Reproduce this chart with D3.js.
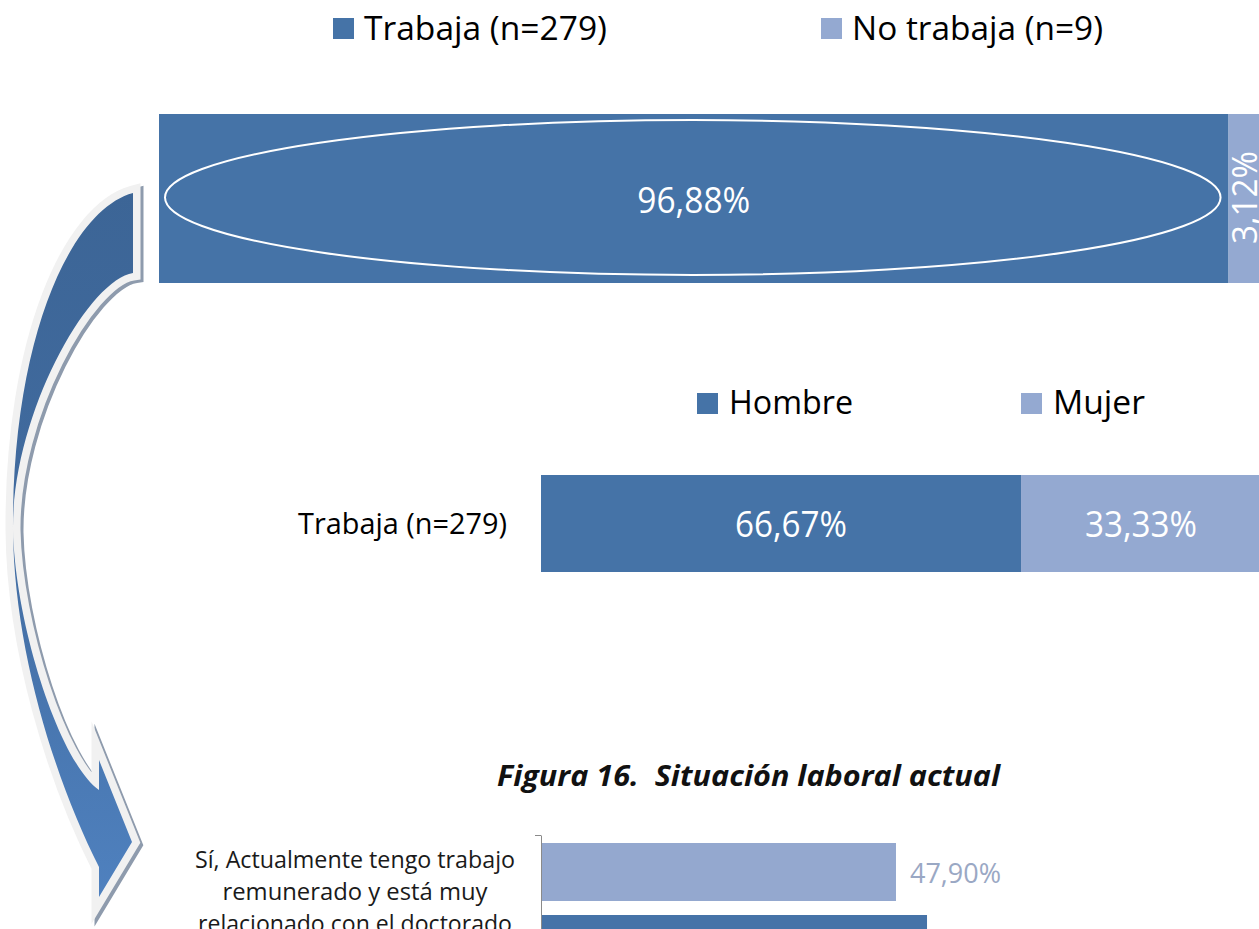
<!DOCTYPE html>
<html><head><meta charset="utf-8">
<script src="https://cdn.jsdelivr.net/npm/d3@7"></script>
<style>html,body{margin:0;padding:0;background:#fff;overflow:hidden}
text{font-family:"Open Sans","Noto Sans",sans-serif;white-space:pre}</style>
</head><body><svg id="c" width="1259" height="929"></svg>
<script>
// ---------- data ----------
const topCategories = ["Trabaja (n=279)", "No trabaja (n=9)"];
const topValues = [96.88, 3.12];
const topLabels = ["96,88%", "3,12%"];

const sexCategories = ["Hombre", "Mujer"];
const sexRowLabel = "Trabaja (n=279)";
const sexValues = [66.67, 33.33];
const sexLabels = ["66,67%", "33,33%"];

const figTitle = "Figura 16.  Situación laboral actual";
const situationCategoryLines = ["Sí, Actualmente tengo trabajo", "remunerado y está muy", "relacionado con el doctorado"];
const situationValues = [47.90, 52.10];
const situationLabels = ["47,90%", "52,10%"];

const darkBlue = "#4573a7", lightBlue = "#94a9d1";
const seriesColors = [darkBlue, lightBlue];

const svg = d3.select("#c");

// ---------- decorative curved arrow ----------
const defs = svg.append("defs");
const grad = defs.append("linearGradient").attr("id","ag").attr("gradientUnits","userSpaceOnUse")
  .attr("x1",0).attr("y1",190).attr("x2",0).attr("y2",900);
grad.append("stop").attr("offset",0).attr("stop-color","#3c6596");
grad.append("stop").attr("offset",0.45).attr("stop-color","#416b9f");
grad.append("stop").attr("offset",1).attr("stop-color","#4f81bf");

const ap = d3.path();
ap.moveTo(133,193);
ap.bezierCurveTo(70,210,12,340,13,530);
ap.bezierCurveTo(14,650,55,780,99,867);
ap.lineTo(99,897); ap.lineTo(132,842); ap.lineTo(99,760); ap.lineTo(99,790);
ap.bezierCurveTo(60,763,15,625,13,530);
ap.bezierCurveTo(12,415,88,280,133,273);
ap.closePath();
const arrowD = ap.toString();
svg.append("path").attr("d", arrowD).attr("transform","translate(3,2.5)")
  .attr("fill","#8e9bad").attr("stroke","#8e9bad").attr("stroke-width",15)
  .attr("stroke-linejoin","miter").attr("stroke-miterlimit",10);
svg.append("path").attr("d", arrowD).attr("fill","url(#ag)")
  .attr("stroke","#f1f1f1").attr("stroke-width",15)
  .attr("stroke-linejoin","miter").attr("stroke-miterlimit",10)
  .style("paint-order","stroke");

// ---------- top legend ----------
const legTop = [{x:333, tx:364, w:243}, {x:821, tx:852, w:251}];
topCategories.forEach((c,i) => {
  svg.append("rect").attr("x",legTop[i].x).attr("y",18).attr("width",21).attr("height",21).attr("fill",seriesColors[i]);
  svg.append("text").attr("x",legTop[i].tx).attr("y",40).attr("font-size",33).attr("fill","#000")
    .attr("textLength",legTop[i].w).attr("lengthAdjust","spacingAndGlyphs").text(c);
});

// ---------- top stacked bar ----------
const xTop = d3.scaleLinear().domain([0,100]).range([159,1263]);
const yTop = d3.scaleBand().domain(["all"]).range([114,283]);
const topStack = topValues.map((v,i) => ({v, i, s: d3.sum(topValues.slice(0,i)), e: d3.sum(topValues.slice(0,i+1))}));
svg.append("g").selectAll("rect").data(topStack).join("rect")
  .attr("x", d => xTop(d.s)).attr("width", d => xTop(d.e) - xTop(d.s))
  .attr("y", yTop("all")).attr("height", yTop.bandwidth())
  .attr("fill", d => seriesColors[d.i]);
const s0 = topStack[0];
svg.append("ellipse")
  .attr("cx", (xTop(s0.s)+xTop(s0.e))/2 - 1).attr("cy", yTop("all") + yTop.bandwidth()/2 - 1)
  .attr("rx", (xTop(s0.e)-xTop(s0.s))/2 - 7).attr("ry", yTop.bandwidth()/2 - 7)
  .attr("fill","none").attr("stroke","#fff").attr("stroke-width",2);
svg.append("text").attr("x",(xTop(s0.s)+xTop(s0.e))/2).attr("y",yTop("all")+yTop.bandwidth()/2+14)
  .attr("text-anchor","middle").attr("font-size",37).attr("fill","#fff")
  .attr("textLength",113).attr("lengthAdjust","spacingAndGlyphs").text(topLabels[0]);
const s1 = topStack[1];
svg.append("text")
  .attr("transform", `translate(${(xTop(s1.s)+xTop(s1.e))/2 + 11},${yTop("all")+yTop.bandwidth()/2 - 1}) rotate(-90)`)
  .attr("text-anchor","middle").attr("font-size",35).attr("fill","#fff")
  .attr("textLength",93).attr("lengthAdjust","spacingAndGlyphs").text(topLabels[1]);

// ---------- sex legend ----------
const legSex = [{x:697, tx:729, w:124}, {x:1021, tx:1053, w:92}];
sexCategories.forEach((c,i) => {
  svg.append("rect").attr("x",legSex[i].x).attr("y",393).attr("width",21).attr("height",21).attr("fill",seriesColors[i]);
  svg.append("text").attr("x",legSex[i].tx).attr("y",414).attr("font-size",33).attr("fill","#000")
    .attr("textLength",legSex[i].w).attr("lengthAdjust","spacingAndGlyphs").text(c);
});

// ---------- sex stacked bar ----------
const xSex = d3.scaleLinear().domain([0,100]).range([541,1261]);
const ySex = d3.scaleBand().domain([sexRowLabel]).range([475,572]);
const sexStack = sexValues.map((v,i) => ({v, i, s: d3.sum(sexValues.slice(0,i)), e: d3.sum(sexValues.slice(0,i+1))}));
svg.append("g").selectAll("rect").data(sexStack).join("rect")
  .attr("x", d => xSex(d.s)).attr("width", d => xSex(d.e) - xSex(d.s))
  .attr("y", ySex(sexRowLabel)).attr("height", ySex.bandwidth())
  .attr("fill", d => seriesColors[d.i]);
svg.append("g").selectAll("text").data(sexStack).join("text")
  .attr("x", d => (xSex(d.s)+xSex(d.e))/2 + (d.i===0 ? 10 : 0))
  .attr("y", ySex(sexRowLabel) + ySex.bandwidth()/2 + 13)
  .attr("text-anchor","middle").attr("font-size",36).attr("fill","#fff")
  .attr("textLength",112).attr("lengthAdjust","spacingAndGlyphs")
  .text(d => sexLabels[d.i]);
svg.append("text").attr("x",507).attr("y",534).attr("text-anchor","end")
  .attr("font-size",30).attr("fill","#000")
  .attr("textLength",209).attr("lengthAdjust","spacingAndGlyphs").text(sexRowLabel);

// ---------- figure title ----------
svg.append("text").attr("x",497).attr("y",786).attr("font-size",29)
  .attr("font-weight","bold").attr("font-style","italic").attr("fill","#111")
  .attr("textLength",503).attr("lengthAdjust","spacingAndGlyphs").text(figTitle);

// ---------- bottom bar chart (cropped) ----------
const xSit = d3.scaleLinear().domain([0,100]).range([541,1280]);
const ySit = d3.scaleBand().domain(d3.range(situationValues.length)).range([837,981])
  .paddingInner(1/6).paddingOuter(1/12);
const sitColors = ["#94a8cf", "#4673a8"];
const sitLabelColors = ["#9aa8c4", "#c9d3e4"];
const yAxisBound = d3.scaleLinear().domain([0,1]).range([835,1015]);
const ax = svg.append("g").attr("transform","translate(541,0)")
  .call(d3.axisLeft(yAxisBound).tickValues([0,1]).tickSize(6).tickSizeOuter(0).tickFormat(""));
ax.selectAll("path,line").attr("stroke","#8a8a8a");
svg.append("g").selectAll("rect").data(situationValues).join("rect")
  .attr("x", xSit(0)+1).attr("width", d => xSit(d) - xSit(0))
  .attr("y", (d,i) => ySit(i)).attr("height", ySit.bandwidth() - 2)
  .attr("fill", (d,i) => sitColors[i]);
svg.append("g").selectAll("text").data(situationValues).join("text")
  .attr("x", d => xSit(d) + 15)
  .attr("y", (d,i) => ySit(i) + ySit.bandwidth()/2 + 10)
  .attr("font-size",27).attr("fill",(d,i) => sitLabelColors[i])
  .attr("font-family","Lato, 'Open Sans', sans-serif")
  .text((d,i) => situationLabels[i]);
const lineW = [320, 265, 314];
svg.append("g").selectAll("text").data(situationCategoryLines).join("text")
  .attr("x",355).attr("y",(d,i) => 868 + i*32).attr("text-anchor","middle")
  .attr("font-size",24).attr("fill","#1a1a1a")
  .attr("textLength",(d,i) => lineW[i]).attr("lengthAdjust","spacingAndGlyphs")
  .text(d => d);
</script></body></html>
